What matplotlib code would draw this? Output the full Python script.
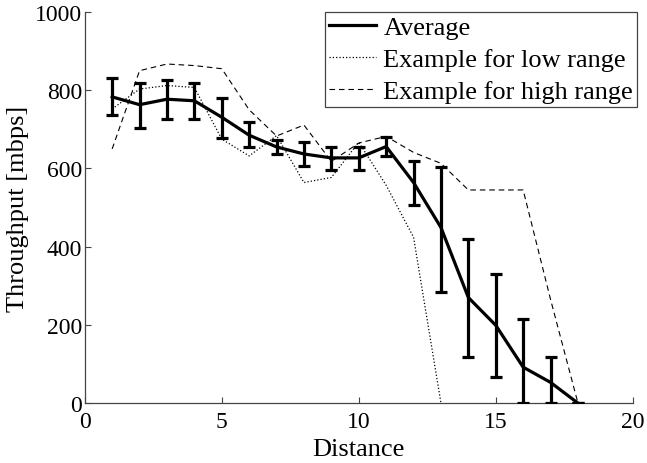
import numpy as np
import matplotlib.pyplot as plt
import matplotlib as mpl
from matplotlib.lines import Line2D

#==============================================================
# DATA
#==============================================================
distance = np.arange(1, 19)
avg = [783, 763, 777, 773, 731, 685, 655, 637, 627, 627, 656, 564, 449, 270, 199, 92, 53, 0]
err_hi = [831, 818, 827, 818, 781, 718, 673, 668, 656, 654, 681, 618, 604, 419, 329, 215, 119, 0]
err_lo = [737, 703, 726, 726, 677, 656, 636, 607, 596, 597, 633, 507, 285, 118, 66, 0, 0, 0]

low_x = np.arange(1, 14)
low_range = [752, 803, 812, 807, 675, 632, 684, 564, 577, 667, 557, 424, 0]
high_x = np.arange(1, 19)
high_range = [650, 850, 867, 863, 855, 750, 683, 711, 618, 665, 682, 641, 613, 545, 545, 545, 265, 0]

labels = ['Average', 'Example for low range', 'Example for high range']

#==============================================================
# PLOT
#==============================================================
mpl.rcParams['font.family'] = 'Liberation Serif'
mpl.rcParams['font.size'] = 19
mpl.rcParams['xtick.direction'] = 'in'
mpl.rcParams['ytick.direction'] = 'in'

fig = plt.figure(figsize=(6.47, 4.64), dpi=100)
ax = fig.add_axes([0.131, 0.129, 0.847, 0.843])

avg = np.array(avg)
yerr = [avg - np.array(err_lo), np.array(err_hi) - avg]
ax.errorbar(distance, avg, yerr=yerr, color='black', lw=2.3, elinewidth=2.3,
            capsize=4.5, capthick=2.3, zorder=3)
ax.plot(low_x, low_range, ':', color='black', lw=0.9)
ax.plot(high_x, high_range, '--', color='black', lw=0.8, dashes=(5, 3.5))

ax.set_xlim(0, 20)
ax.set_ylim(0, 1000)
ax.set_xticks([0, 5, 10, 15, 20])
ax.set_yticks([0, 200, 400, 600, 800, 1000])
ax.spines['top'].set_visible(False)
ax.spines['right'].set_visible(False)
for s in ['left', 'bottom']:
    ax.spines[s].set_color('#444444')
    ax.spines[s].set_linewidth(0.9)
ax.tick_params(length=4, width=0.8, color='#444444', labelsize=17)
ax.tick_params(axis='y', pad=2)
ax.tick_params(axis='x', pad=6)

ax.set_xlabel('Distance', labelpad=4)
ax.set_ylabel('Throughput [mbps]', labelpad=4)

# legend proxies
hnd = [Line2D([], [], color='black', lw=2.3),
       Line2D([], [], color='black', lw=0.9, ls=':'),
       Line2D([], [], color='black', lw=0.8, ls='--', dashes=(5, 3.5))]
leg = ax.legend(hnd, labels, loc='upper right', bbox_to_anchor=(1.008, 1.0), fancybox=False,
                edgecolor='#444444', framealpha=1, borderaxespad=0,
                handlelength=1.75, handletextpad=0.3, borderpad=0.15, labelspacing=0.32)
leg.get_frame().set_linewidth(0.9)

fig.savefig('out.png', dpi=100)
